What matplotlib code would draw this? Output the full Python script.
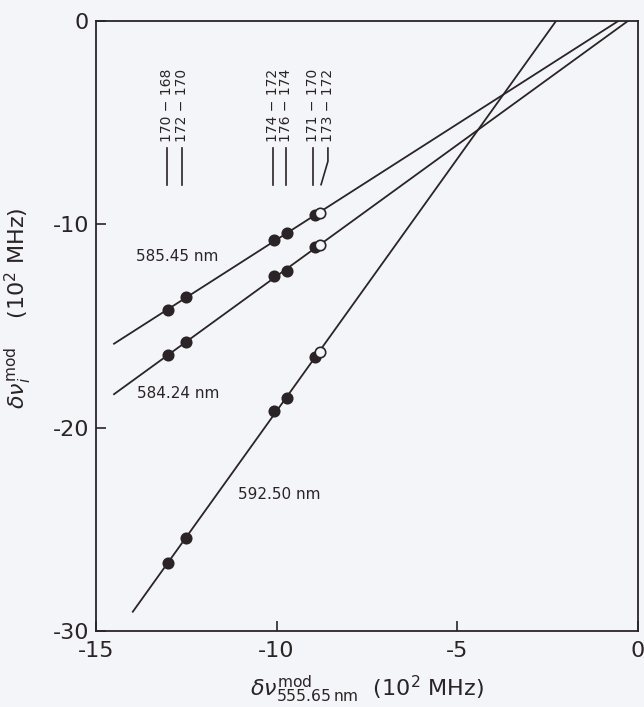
import numpy as np
import matplotlib
matplotlib.use('Agg')
from matplotlib import pyplot

# isotope pairs, their shifts in the 555.65 nm line (10^2 MHz)
pair_labels = ['170 − 168', '172 − 170', '174 − 172', '176 − 174', '171 − 170', '173 − 172']
x_shift = [-13.01, -12.51, -10.07, -9.71, -8.94, -8.80]
open_marker = [False, False, False, False, False, True]
label_x = [-13.03, -12.62, -10.10, -9.74, -9.00, -8.58]
leader_end_x = [-13.03, -12.62, -10.10, -9.74, -9.00, -8.77]

# modified shifts of the other transitions, same pair order
line_names = ['585.45 nm', '584.24 nm', '592.50 nm']
y_585 = [-14.22, -13.58, -10.77, -10.43, -9.54, -9.44]
y_584 = [-16.43, -15.79, -12.54, -12.30, -11.12, -11.02]
y_592 = [-26.66, -25.43, -19.18, -18.54, -16.53, -16.28]
fit_start = [-14.5, -14.5, -13.98]
name_pos = [(-13.88, -11.6), (-13.87, -18.3), (-11.07, -23.3)]

ink = '#2b2427'
paper = '#f4f5f8'

pyplot.rcParams['axes.unicode_minus'] = False
pyplot.rcParams['font.family'] = 'DejaVu Sans'
pyplot.rcParams['mathtext.fontset'] = 'dejavusans'

fig = pyplot.figure(figsize=(6.44, 7.07), dpi=100, facecolor=paper)
ax = fig.add_axes([0.149, 0.1075, 0.8416, 0.8628])
ax.set_facecolor(paper)

for ys, x0 in zip([y_585, y_584, y_592], fit_start):
    k, b = np.polyfit(x_shift, ys, 1)
    xs = np.array([x0, 0.0])
    ax.plot(xs, k * xs + b, color=ink, lw=1.3, zorder=2)
    for x, y, hollow in zip(x_shift, ys, open_marker):
        ax.plot(x, y, 'o', ms=7.5, mec=ink, mew=1.2,
                mfc=paper if hollow else ink, zorder=3)

for name, (tx, ty) in zip(line_names, name_pos):
    ax.text(tx, ty, name, fontsize=11, color=ink, ha='left', va='center')

# pair labels with short leaders above the point columns
for lx, ex, lab in zip(label_x, leader_end_x, pair_labels):
    ax.text(lx, -5.95, lab, rotation=90, fontsize=10, color=ink,
            ha='center', va='bottom')
    ax.plot([lx, lx, ex], [-6.25, -6.9, -8.05], color=ink, lw=1.2)

ax.set_xlim(-15, 0)
ax.set_ylim(-30, 0)
ax.set_xticks([-15, -10, -5, 0])
ax.set_yticks([-30, -20, -10, 0])
ax.tick_params(direction='in', length=7, width=1.2, colors=ink,
               labelsize=16, top=False, right=False)
ax.tick_params(axis='x', pad=7)
ax.tick_params(axis='y', pad=5)
for sp in ax.spines.values():
    sp.set_color(ink)
    sp.set_linewidth(1.3)

ax.set_xlabel(r'$\delta\nu^{\rm mod}_{\rm 555.65\,nm}$  (10$^2$ MHz)',
              fontsize=16, color=ink)
ax.set_ylabel(r'$\delta\nu^{\rm mod}_{i}$    (10$^2$ MHz)',
              fontsize=16, color=ink)
ax.xaxis.set_label_coords(0.5, -0.07)
ax.yaxis.set_label_coords(-0.115, 0.53)

fig.savefig('out.png', dpi=100, facecolor=paper)
